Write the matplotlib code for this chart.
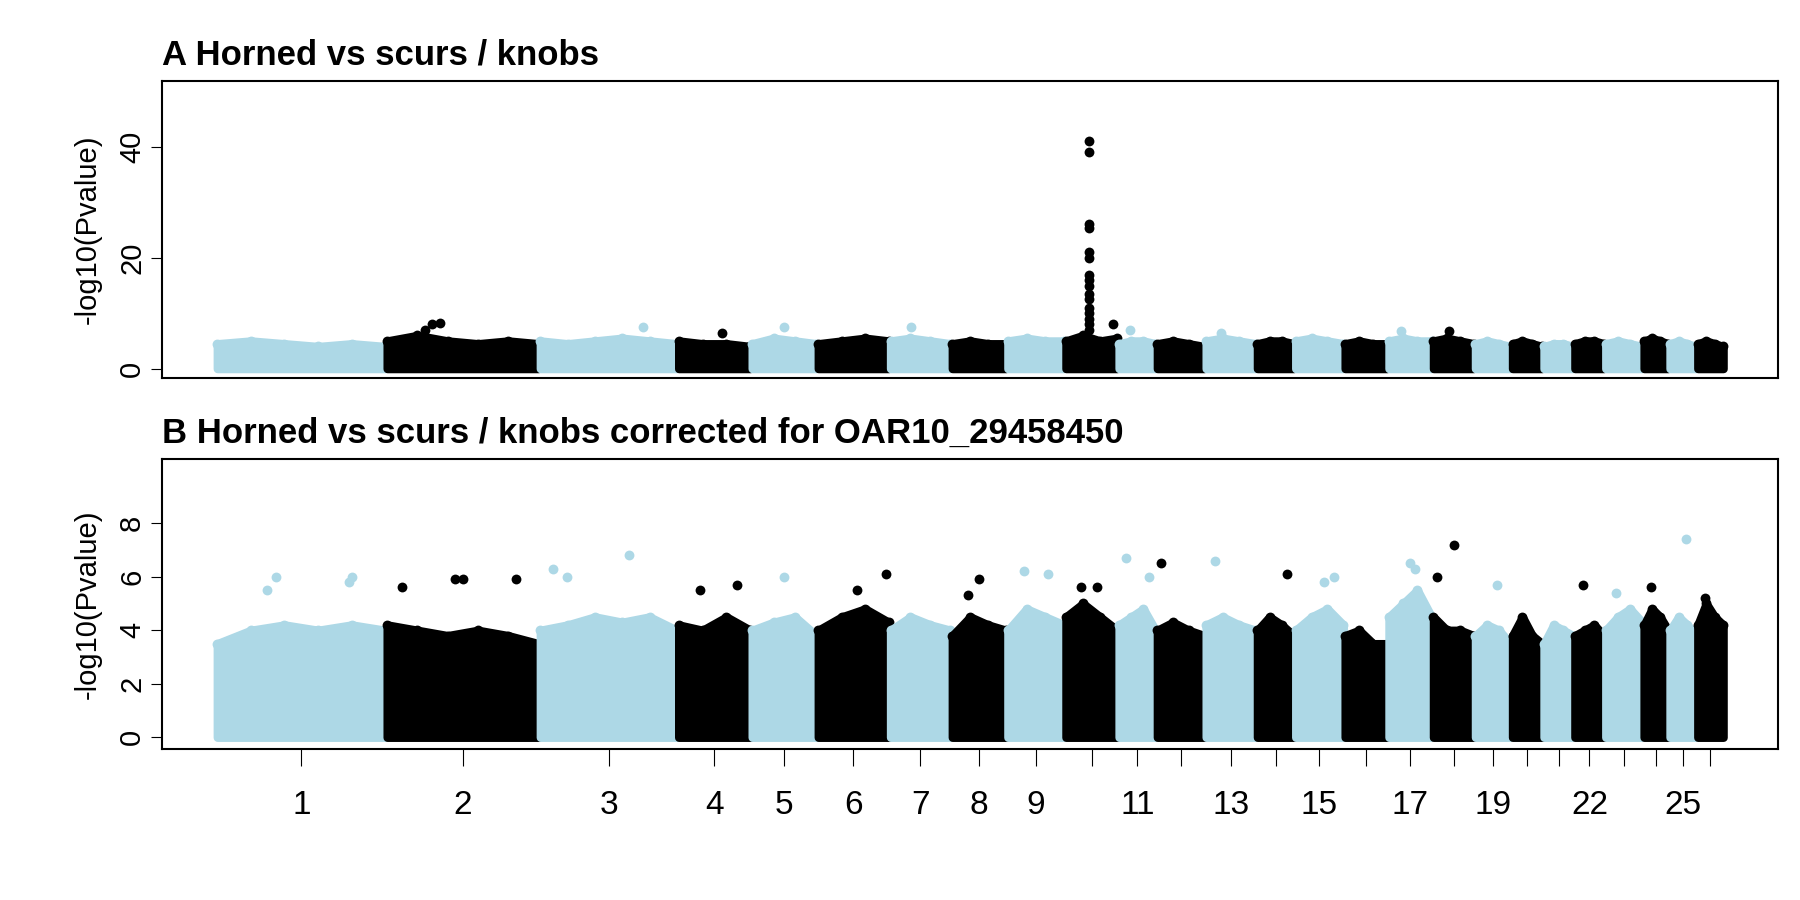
import numpy as np
import matplotlib.pyplot as plt

plt.rcParams['font.family'] = ['Liberation Sans', 'DejaVu Sans']

# chromosome lengths (Mb)
chrom_len = [275, 248, 224, 119, 107, 117, 100, 90, 94, 86, 62, 79, 83,
             62, 80, 71, 72, 68, 60, 51, 50, 50, 62, 42, 45, 44]
chrom_labels = ["1", "2", "3", "4", "5", "6", "7", "8", "9", "", "11", "", "13",
                "", "15", "", "17", "", "19", "", "", "22", "", "", "25", ""]

# dense envelope heights (-log10 p) along each chromosome, panel A
env_a = [[4.5, 5, 4.5, 4, 4.5, 4], [5, 6, 5, 4.5, 5, 4.5], [5, 4.5, 5, 5.5, 5, 4.5],
         [5, 4.5, 4.5, 4], [4.5, 5.5, 5, 4.5], [4.5, 5, 5.5, 5], [5, 5.5, 5, 4.5],
         [4.5, 5, 4.5, 4.5], [5, 5.5, 5, 5], [5, 6, 5, 5.5], [4.5, 5, 5, 4.5],
         [4.5, 5, 4.5, 4], [5, 5.5, 5, 4.5], [4.5, 5, 5, 4.5], [5, 5.5, 5, 4.5],
         [4.5, 5, 4.5, 4.5], [5, 5.5, 5, 5], [5, 5.5, 5, 4.5], [4.5, 5, 4.5, 4],
         [4.5, 5, 4.5, 4], [4, 4.5, 4.5, 4], [4.5, 5, 5, 4.5], [4.5, 5, 4.5, 4],
         [5, 5.5, 5, 4.5], [4.5, 5, 4.5, 4], [4.5, 5, 4.5, 4]]
# panel B envelopes
env_b = [[3.5, 4, 4.2, 4, 4.2, 4], [4.2, 4, 3.8, 4, 3.8, 3.5], [4, 4.2, 4.5, 4.3, 4.5, 4],
         [4.2, 4, 4.5, 4], [4, 4.3, 4.5, 3.8], [4, 4.5, 4.8, 4.3], [4, 4.5, 4.2, 4],
         [3.8, 4.5, 4.2, 4], [4, 4.8, 4.5, 4.2], [4.5, 5, 4.5, 4], [4.2, 4.5, 4.8, 4],
         [4, 4.3, 4, 3.8], [4.2, 4.5, 4.2, 4], [4, 4.5, 4.2, 3.8], [4, 4.5, 4.8, 4.2],
         [3.8, 4, 3.5, 3.5], [4.5, 5, 5.5, 4.5], [4.5, 4, 4, 3.8], [3.8, 4.2, 4, 3.5],
         [3.8, 4.5, 3.8, 3.5], [3.5, 4.2, 4, 3.8], [3.8, 4, 4.2, 3.8], [4, 4.5, 4.8, 4.3],
         [4.2, 4.8, 4.5, 4], [4, 4.5, 4.2, 3.8], [4.2, 5, 4.5, 4.2]]

# outlier points: (chromosome, relative position, value)
peaks_a = [(10, 0.45, 41.2), (10, 0.45, 39.2), (10, 0.45, 26.2), (10, 0.45, 25.5),
           (10, 0.45, 21), (10, 0.45, 20), (10, 0.45, 17), (10, 0.45, 16),
           (10, 0.45, 15), (10, 0.45, 13.5), (10, 0.45, 12.5), (10, 0.45, 11),
           (10, 0.45, 10), (10, 0.45, 9), (10, 0.45, 8), (10, 0.45, 7),
           (10, 0.9, 8), (2, 0.3, 8), (2, 0.35, 8.2), (2, 0.25, 7),
           (3, 0.75, 7.5), (5, 0.5, 7.5), (7, 0.35, 7.5), (11, 0.3, 7), (18, 0.4, 6.8),
           (4, 0.6, 6.5), (13, 0.3, 6.5), (17, 0.3, 6.8)]
peaks_b = [(1, 0.35, 6.0), (1, 0.8, 6.0), (1, 0.78, 5.8), (1, 0.3, 5.5), (2, 0.1, 5.6),
           (2, 0.45, 5.9), (2, 0.5, 5.9), (2, 0.85, 5.9), (3, 0.1, 6.3), (3, 0.2, 6.0),
           (3, 0.65, 6.8), (4, 0.3, 5.5), (4, 0.8, 5.7), (5, 0.5, 6.0), (6, 0.55, 5.5),
           (6, 0.95, 6.1), (8, 0.5, 5.9), (8, 0.3, 5.3), (9, 0.3, 6.2), (9, 0.7, 6.1),
           (10, 0.3, 5.6), (10, 0.6, 5.6), (11, 0.2, 6.7), (11, 0.8, 6.0), (12, 0.1, 6.5),
           (13, 0.2, 6.6), (14, 0.8, 6.1), (15, 0.6, 5.8), (15, 0.8, 6.0),
           (17, 0.5, 6.5), (17, 0.6, 6.3), (18, 0.1, 6.0), (18, 0.5, 7.2), (19, 0.6, 5.7),
           (22, 0.3, 5.7), (23, 0.3, 5.4), (24, 0.3, 5.6), (25, 0.6, 7.4), (26, 0.3, 5.2)]

starts = np.concatenate([[0], np.cumsum(chrom_len)[:-1]])
centers = starts + np.array(chrom_len) / 2
total = sum(chrom_len)


def color_of(i):
    return "lightblue" if i % 2 == 0 else "black"


def draw_panel(ax, env, peaks, ylim, yticks, title):
    for i, (s, L) in enumerate(zip(starts, chrom_len)):
        h = np.array(env[i])
        xs = s + np.linspace(1.5, L - 1.5, len(h))
        c = color_of(i)
        ax.fill_between(xs, 0, h, color=c, lw=6, edgecolor=c)
        # dotted edge to mimic the dense cloud of points
        ax.scatter(xs, h, s=50, color=c, lw=0)
    for ch, rel, v in peaks:
        i = ch - 1
        ax.scatter(starts[i] + rel * chrom_len[i], v, s=50, color=color_of(i), lw=0, zorder=3)
    ax.set_xlim(-88, total + 88)
    ax.set_ylim(*ylim)
    ax.set_yticks(yticks)
    ax.tick_params(axis='y', labelsize=21, rotation=90, length=8)
    ax.set_ylabel("-log10(Pvalue)", fontsize=21, labelpad=12)
    ax.set_title(title, loc="left", fontsize=25, fontweight="bold", pad=12)
    for sp in ax.spines.values():
        sp.set_linewidth(1.5)


fig = plt.figure(figsize=(18, 9), dpi=100)
ax1 = fig.add_axes([0.090, 0.58, 0.898, 0.33])
ax2 = fig.add_axes([0.090, 0.168, 0.898, 0.322])

draw_panel(ax1, env_a, peaks_a, (-1.7, 52), [0, 20, 40], "A Horned vs scurs / knobs")
ax1.set_xticks([])
draw_panel(ax2, env_b, peaks_b, (-0.43, 10.4), [0, 2, 4, 6, 8],
           "B Horned vs scurs / knobs corrected for OAR10_29458450")
ax2.set_xticks(centers)
ax2.set_xticklabels(chrom_labels, fontsize=24)
ax2.tick_params(axis='x', length=12, pad=18)
for lbl in ax1.get_yticklabels() + ax2.get_yticklabels():
    lbl.set_va("center")

fig.savefig("out.png", dpi=100)
